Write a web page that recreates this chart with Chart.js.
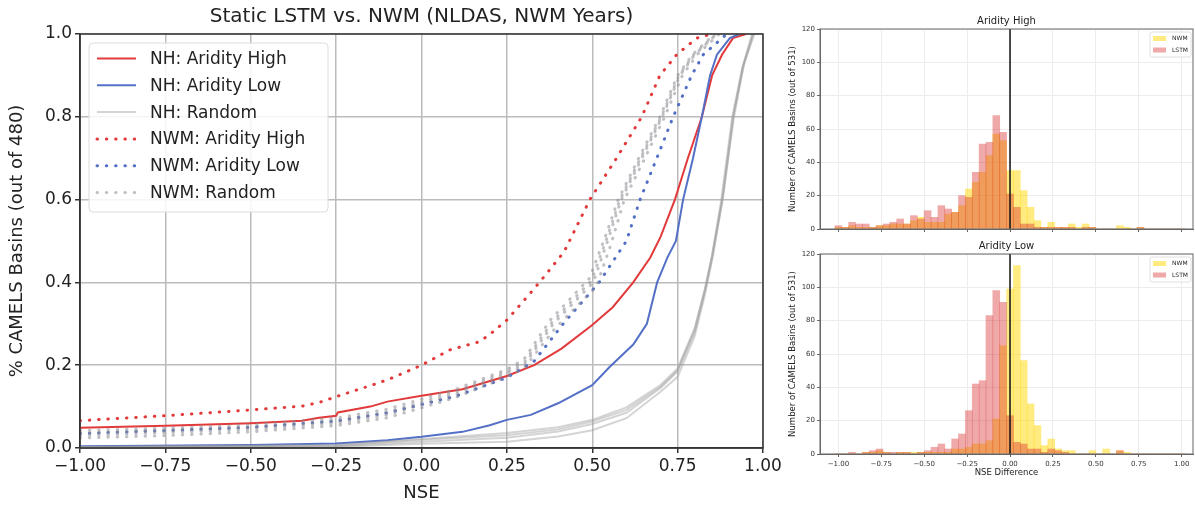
<!DOCTYPE html>
<html>
<head>
<meta charset="utf-8">
<script src="https://cdn.jsdelivr.net/npm/chart.js@4.4.1/dist/chart.umd.min.js"></script>
<style>
body{margin:0;background:#fff;width:1195px;height:506px;position:relative;overflow:hidden}
canvas{position:absolute}
#cdf{left:0;top:0}
#histHigh{left:775px;top:0}
#histLow{left:775px;top:240px}
</style>
</head>
<body>
<canvas id="cdf" width="795" height="506"></canvas>
<canvas id="histHigh" width="420" height="240"></canvas>
<canvas id="histLow" width="420" height="266"></canvas>
<script>
// CDF curves, [NSE, fraction of basins]
const nhHigh = [[-1,0.049],[-0.75,0.054],[-0.5,0.060],[-0.35,0.066],[-0.3,0.073],[-0.25,0.078],[-0.245,0.086],[-0.15,0.10],[-0.1,0.112],[0,0.126],[0.12,0.142],[0.25,0.174],[0.33,0.2],[0.41,0.24],[0.5,0.297],[0.56,0.34],[0.62,0.40],[0.67,0.46],[0.70,0.51],[0.742,0.6],[0.78,0.7],[0.821,0.8],[0.851,0.9],[0.88,0.95],[0.912,0.99],[0.95,1.0]];
const nhLow = [[-1,0.004],[-0.5,0.007],[-0.25,0.011],[-0.1,0.019],[0,0.027],[0.12,0.039],[0.2,0.055],[0.25,0.068],[0.32,0.08],[0.4,0.108],[0.5,0.152],[0.55,0.195],[0.62,0.25],[0.66,0.3],[0.69,0.4],[0.72,0.46],[0.745,0.5],[0.766,0.6],[0.795,0.7],[0.821,0.8],[0.845,0.9],[0.865,0.95],[0.903,0.99],[0.93,1.0]];
const nhRandom = [
  [[-1,0.002],[-0.25,0.006],[0,0.02],[0.25,0.031],[0.4,0.045],[0.5,0.064],[0.6,0.092],[0.7,0.148],[0.75,0.188],[0.8,0.285],[0.83,0.382],[0.85,0.462],[0.88,0.6],[0.912,0.8],[0.94,0.92],[0.97,1.0]],
  [[-1,0.001],[-0.25,0.003],[0,0.01],[0.25,0.015],[0.4,0.028],[0.5,0.043],[0.6,0.072],[0.7,0.136],[0.75,0.172],[0.8,0.27],[0.83,0.37],[0.855,0.47],[0.885,0.62],[0.915,0.8],[0.945,0.93],[0.975,1.0]],
  [[-1,0.002],[-0.25,0.004],[0,0.015],[0.25,0.025],[0.4,0.04],[0.5,0.058],[0.6,0.085],[0.7,0.145],[0.75,0.185],[0.8,0.28],[0.83,0.38],[0.852,0.465],[0.882,0.6],[0.913,0.8],[0.942,0.92],[0.972,1.0]],
  [[-1,0.003],[-0.25,0.007],[0,0.022],[0.25,0.036],[0.4,0.05],[0.5,0.068],[0.6,0.098],[0.7,0.152],[0.75,0.192],[0.8,0.29],[0.83,0.385],[0.85,0.46],[0.878,0.6],[0.91,0.8],[0.94,0.92],[0.968,1.0]]
];
const nwmHigh = [[-1,0.066],[-0.75,0.078],[-0.5,0.092],[-0.35,0.101],[-0.3,0.11],[-0.25,0.124],[-0.13,0.156],[-0.09,0.168],[0,0.2],[0.083,0.237],[0.171,0.257],[0.21,0.281],[0.25,0.309],[0.327,0.382],[0.367,0.422],[0.406,0.462],[0.42,0.478],[0.493,0.6],[0.571,0.7],[0.645,0.8],[0.698,0.9],[0.747,0.95],[0.806,0.99],[0.85,1.0]];
const nwmLow = [[-1,0.035],[-0.75,0.042],[-0.5,0.05],[-0.25,0.065],[-0.1,0.085],[0,0.105],[0.1,0.125],[0.25,0.17],[0.33,0.21],[0.415,0.3],[0.52,0.4],[0.6,0.5],[0.64,0.6],[0.689,0.7],[0.737,0.8],[0.791,0.9],[0.825,0.95],[0.894,1.0]];
const nwmRandom = [
  [[-1,0.03],[-0.75,0.037],[-0.5,0.045],[-0.25,0.06],[-0.1,0.08],[0,0.105],[0.1,0.13],[0.25,0.18],[0.3,0.2],[0.386,0.3],[0.503,0.4],[0.545,0.5],[0.585,0.6],[0.645,0.7],[0.705,0.8],[0.757,0.9],[0.8,0.95],[0.865,1.0]],
  [[-1,0.042],[-0.75,0.048],[-0.5,0.056],[-0.25,0.072],[-0.1,0.094],[0,0.118],[0.1,0.142],[0.25,0.19],[0.3,0.214],[0.378,0.31],[0.492,0.41],[0.538,0.51],[0.576,0.6],[0.636,0.7],[0.698,0.8],[0.75,0.9],[0.793,0.95],[0.858,1.0]],
  [[-1,0.024],[-0.75,0.03],[-0.5,0.039],[-0.25,0.054],[-0.1,0.073],[0,0.097],[0.1,0.122],[0.25,0.172],[0.3,0.192],[0.392,0.29],[0.512,0.39],[0.554,0.49],[0.594,0.6],[0.654,0.7],[0.712,0.8],[0.764,0.9],[0.807,0.95],[0.872,1.0]],
  [[-1,0.036],[-0.75,0.043],[-0.5,0.05],[-0.25,0.066],[-0.1,0.087],[0,0.111],[0.1,0.136],[0.25,0.185],[0.3,0.206],[0.383,0.305],[0.498,0.405],[0.542,0.505],[0.581,0.6],[0.641,0.7],[0.702,0.8],[0.754,0.9],[0.797,0.95],[0.862,1.0]]
];
const cdfTicksX = [-1, -0.75, -0.5, -0.25, 0, 0.25, 0.5, 0.75, 1];

// histogram of NSE difference, bins of 0.04
const binCenters = [-1,-0.96,-0.92,-0.88,-0.84,-0.8,-0.76,-0.72,-0.68,-0.64,-0.6,-0.56,-0.52,-0.48,-0.44,-0.4,-0.36,-0.32,-0.28,-0.24,-0.2,-0.16,-0.12,-0.08,-0.04,0,0.04,0.08,0.12,0.16,0.2,0.24,0.28,0.32,0.36,0.4,0.44,0.48,0.52,0.56,0.6,0.64,0.68,0.72,0.76,0.8,0.84,0.88,0.92,0.96,1];
const highNwm = [1,1,2,1,1,1,2,2,3,3, 3,5,7,4,4,4,9,10,14,24, 28,34,44,57,53,35,35,23,13,5, 1,4,1,1,3,1,3,1,0,0, 0,2,1,0,1,0,0,0,0,0, 0];
const highLstm = [2,1,4,3,3,1,2,3,4,6, 3,8,6,11,7,14,12,10,20,19, 34,51,52,68,58,21,13,3,3,1, 1,1,1,1,1,0,1,1,0,0, 0,0,0,0,1,0,0,0,0,0, 0];
const lowNwm = [0,0,0,0,1,1,2,1,0,1, 1,1,1,1,1,1,1,3,3,4, 6,6,8,21,65,99,113,56,30,17, 5,9,3,2,2,0,0,2,0,3, 0,2,1,0,0,0,0,0,0,0, 0];
const lowLstm = [0,0,1,0,1,2,3,1,1,1, 1,0,1,2,4,6,3,9,12,26, 42,44,83,98,91,23,7,6,3,3, 1,3,2,1,0,0,0,0,0,0, 0,2,0,0,0,0,0,0,0,0, 0];
const histTicksX = [-1, -0.75, -0.5, -0.25, 0, 0.25, 0.5, 0.75, 1];

Chart.defaults.font.family = "'DejaVu Sans', sans-serif";
Chart.defaults.color = '#222';

const RED = 'rgb(226,58,58)';
const BLUE = 'rgb(84,112,198)';
const GREY = 'rgba(160,160,160,0.45)';
const GREY_DOT = 'rgba(140,140,148,0.55)';

const minus = s => s.replace('-', '\u2212');
const toXY = pts => pts.map(([x, y]) => ({x, y}));

const solid = (label, pts, color, legend) => ({
  label, data: toXY(pts), borderColor: color, borderWidth: 2,
  pointRadius: 0, tension: 0, fill: false, showInLegend: legend
});
const dotted = (label, pts, color, legend) => ({
  label, data: toXY(pts), borderColor: color, borderWidth: 3,
  borderDash: [0.5, 8.8], borderCapStyle: 'round',
  pointRadius: 0, tension: 0, fill: false, showInLegend: legend
});

const cdfDatasets = [];
nhRandom.forEach((r, i) => cdfDatasets.push(solid('NH: Random', r, GREY, i == 0)));
nwmRandom.forEach((r, i) => cdfDatasets.push(dotted('NWM: Random', r, GREY_DOT, i == 0)));
cdfDatasets.push(dotted('NWM: Aridity Low', nwmLow, BLUE, true));
cdfDatasets.push(dotted('NWM: Aridity High', nwmHigh, RED, true));
cdfDatasets.push(solid('NH: Aridity Low', nhLow, BLUE, true));
cdfDatasets.push(solid('NH: Aridity High', nhHigh, RED, true));
const legendOrder = ['NH: Aridity High', 'NH: Aridity Low', 'NH: Random', 'NWM: Aridity High', 'NWM: Aridity Low', 'NWM: Random'];

// top and right spines
const frame = (color, width) => ({
  id: 'frame',
  afterDraw(chart) {
    const a = chart.chartArea, ctx = chart.ctx;
    ctx.save();
    ctx.strokeStyle = color;
    ctx.lineWidth = width;
    ctx.strokeRect(a.left, a.top, a.right - a.left, a.bottom - a.top);
    ctx.restore();
  }
});

function roundBox(ctx, x, y, w, h, r) {
  ctx.beginPath();
  ctx.moveTo(x + r, y);
  ctx.arcTo(x + w, y, x + w, y + h, r);
  ctx.arcTo(x + w, y + h, x, y + h, r);
  ctx.arcTo(x, y + h, x, y, r);
  ctx.arcTo(x, y, x + w, y, r);
  ctx.closePath();
}

const cdfLegend = {
  id: 'cdfLegend',
  afterDraw(chart) {
    const ctx = chart.ctx, a = chart.chartArea;
    const x0 = a.left + 9, y0 = a.top + 9;
    ctx.save();
    roundBox(ctx, x0, y0, 239, 169, 4);
    ctx.fillStyle = 'rgba(255,255,255,0.85)';
    ctx.fill();
    ctx.strokeStyle = '#dcdcdc';
    ctx.lineWidth = 1;
    ctx.stroke();
    ctx.font = "17px 'DejaVu Sans'";
    ctx.textBaseline = 'middle';
    legendOrder.forEach((lab, i) => {
      const ds = chart.data.datasets.find(d => d.label == lab && d.showInLegend);
      const y = y0 + 15.5 + i * 26.8;
      ctx.strokeStyle = ds.borderColor;
      ctx.lineWidth = ds.borderWidth;
      ctx.lineCap = ds.borderCapStyle || 'butt';
      ctx.setLineDash(ds.borderDash || []);
      ctx.beginPath();
      ctx.moveTo(x0 + 8, y);
      ctx.lineTo(x0 + 47, y);
      ctx.stroke();
      ctx.setLineDash([]);
      ctx.fillStyle = '#222';
      ctx.fillText(lab, x0 + 61, y + 1);
    });
    ctx.restore();
  }
};

new Chart(document.getElementById('cdf'), {
  type: 'line',
  data: {datasets: cdfDatasets},
  options: {
    responsive: false,
    animation: false,
    layout: {padding: {left: 0, right: 32, top: 0, bottom: 0}},
    plugins: {
      legend: {display: false},
      tooltip: {enabled: false},
      title: {
        display: true, fullSize: false,
        text: 'Static LSTM vs. NWM (NLDAS, NWM Years)',
        font: {size: 20, weight: 'normal'}, color: '#222',
        padding: {top: 5, bottom: 5}
      }
    },
    scales: {
      x: {
        type: 'linear', min: -1, max: 1,
        afterBuildTicks: s => { s.ticks = cdfTicksX.map(v => ({value: v})); },
        afterFit: s => { s.height = 58; s.paddingLeft = 0; s.paddingRight = 0; },
        ticks: {font: {size: 17}, color: '#222', maxRotation: 0, autoSkip: false, padding: 3,
          callback: v => minus(v.toFixed(2))},
        grid: {color: '#bbbbbb', lineWidth: 1.5, tickLength: 5, tickColor: '#333', tickWidth: 1.5},
        border: {color: '#333', width: 1.5},
        title: {display: true, text: 'NSE', font: {size: 18}, color: '#222', padding: {top: 2, bottom: 2}}
      },
      y: {
        min: 0, max: 1,
        afterFit: s => { s.width = 80; s.paddingTop = 0; s.paddingBottom = 0; },
        ticks: {stepSize: 0.2, font: {size: 17}, color: '#222', padding: 3,
          callback: v => v.toFixed(1)},
        grid: {color: '#bbbbbb', lineWidth: 1.5, tickLength: 5, tickColor: '#333', tickWidth: 1.5},
        border: {color: '#333', width: 1.5},
        title: {display: true, text: '% CAMELS Basins (out of 480)', font: {size: 18}, color: '#222', padding: {top: 7, bottom: 0}}
      }
    }
  },
  plugins: [frame('#333', 1.5), cdfLegend]
});

const zeroLine = {
  id: 'zeroLine',
  afterDatasetsDraw(chart) {
    const a = chart.chartArea, ctx = chart.ctx;
    const x = chart.scales.x.getPixelForValue(0);
    ctx.save();
    ctx.strokeStyle = '#111';
    ctx.lineWidth = 1.5;
    ctx.beginPath();
    ctx.moveTo(x, a.top);
    ctx.lineTo(x, a.bottom);
    ctx.stroke();
    ctx.restore();
  }
};

const histLegend = {
  id: 'histLegend',
  afterDraw(chart) {
    const ctx = chart.ctx, a = chart.chartArea;
    const x0 = a.right - 43, y0 = a.top + 3;
    ctx.save();
    roundBox(ctx, x0, y0, 41, 25, 2);
    ctx.fillStyle = 'rgba(255,255,255,0.85)';
    ctx.fill();
    ctx.strokeStyle = '#e0e0e0';
    ctx.lineWidth = 1;
    ctx.stroke();
    ctx.font = "6px 'DejaVu Sans'";
    ctx.textBaseline = 'middle';
    chart.data.datasets.forEach((ds, i) => {
      const y = y0 + 6.5 + i * 11.5;
      ctx.fillStyle = ds.backgroundColor;
      ctx.fillRect(x0 + 3, y - 2.5, 13, 5);
      ctx.fillStyle = '#222';
      ctx.fillText(ds.label, x0 + 22, y);
    });
    ctx.restore();
  }
};

function histChart(id, title, nwm, lstm, showX, titlePad, xHeight) {
  return new Chart(document.getElementById(id), {
    type: 'bar',
    data: {
      datasets: [
        {label: 'NWM', data: binCenters.map((c, i) => ({x: c, y: nwm[i]})), backgroundColor: 'rgba(255,215,0,0.5)', order: 2},
        {label: 'LSTM', data: binCenters.map((c, i) => ({x: c, y: lstm[i]})), backgroundColor: 'rgba(214,39,40,0.4)', order: 1}
      ]
    },
    options: {
      responsive: false,
      animation: false,
      datasets: {bar: {grouped: false, barPercentage: 1, categoryPercentage: 1, borderWidth: 0}},
      layout: {padding: {left: 0, right: 2, top: 0, bottom: 0}},
      plugins: {
        legend: {display: false},
        tooltip: {enabled: false},
        title: {display: true, fullSize: false, text: title, font: {size: 10, weight: 'normal'}, color: '#222', padding: titlePad}
      },
      scales: {
        x: {
          type: 'linear', min: -1.107, max: 1.066, offset: false,
          afterBuildTicks: s => { s.ticks = histTicksX.map(v => ({value: v})); },
          afterFit: s => { s.height = xHeight; s.paddingLeft = 0; s.paddingRight = 0; },
          ticks: {display: showX, font: {size: 7}, color: '#333', maxRotation: 0, autoSkip: false, padding: 3,
            callback: v => minus(v.toFixed(2))},
          grid: {offset: false, color: '#ececec', lineWidth: 1, tickLength: 3, tickColor: '#666'},
          border: {color: '#666', width: 1},
          title: {display: showX, text: 'NSE Difference', font: {size: 8.5}, color: '#222', padding: {top: 1, bottom: 28}}
        },
        y: {
          min: 0, max: 120,
          afterFit: s => { s.width = 45; s.paddingTop = 0; s.paddingBottom = 0; },
          ticks: {stepSize: 20, font: {size: 7}, color: '#333', padding: 2},
          grid: {color: '#ececec', lineWidth: 1, tickLength: 3, tickColor: '#666'},
          border: {color: '#666', width: 1},
          title: {display: true, text: 'Number of CAMELS Basins (out of 531)', font: {size: 8.5}, color: '#222', padding: {top: 13, bottom: 0}}
        }
      }
    },
    plugins: [zeroLine, frame('#666', 1), histLegend]
  });
}

histChart('histHigh', 'Aridity High', highNwm, highLstm, false, {top: 15, bottom: 2}, 11);
histChart('histLow', 'Aridity Low', lowNwm, lowLstm, true, {top: 0, bottom: 2}, 52);
</script>
</body>
</html>
